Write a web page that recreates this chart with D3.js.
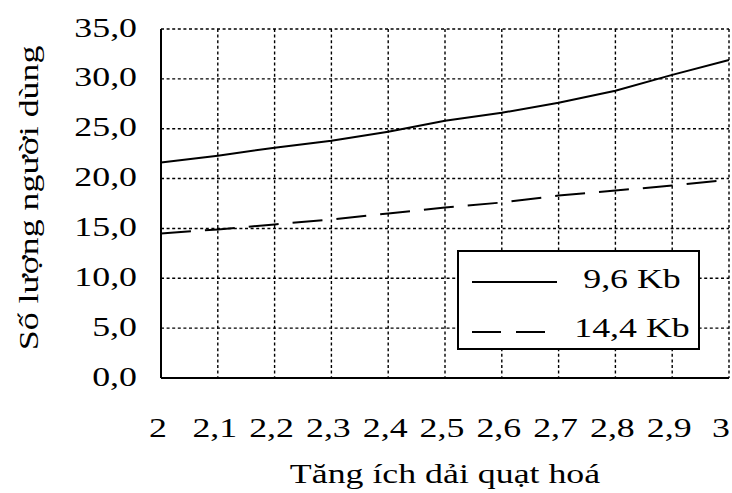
<!DOCTYPE html>
<html>
<head>
<meta charset="utf-8">
<script src="https://cdn.jsdelivr.net/npm/d3@7/dist/d3.min.js"></script>
<style>
html,body{margin:0;padding:0;background:#fff;}
text{font-family:"Liberation Serif","Times New Roman",serif;fill:#000;}
</style>
</head>
<body>
<svg id="chart" width="732" height="493"></svg>
<script>
// Data
const xValues = [2, 2.1, 2.2, 2.3, 2.4, 2.5, 2.6, 2.7, 2.8, 2.9, 3];
const xTickLabels = ["2", "2,1", "2,2", "2,3", "2,4", "2,5", "2,6", "2,7", "2,8", "2,9", "3"];
const yTicks = [0, 5, 10, 15, 20, 25, 30, 35];
const yTickLabels = ["0,0", "5,0", "10,0", "15,0", "20,0", "25,0", "30,0", "35,0"];
const series96 = [21.6, 22.3, 23.1, 23.8, 24.7, 25.8, 26.6, 27.6, 28.8, 30.4, 31.9];
const series144 = [14.5, 14.9, 15.4, 15.9, 16.5, 17.1, 17.6, 18.3, 18.8, 19.3, 19.9];
const seriesNames = ["9,6 Kb", "14,4 Kb"];
const xTitle = "Tăng ích dải quạt hoá";
const yTitle = "Số lượng người dùng";

(function () {
const svg = d3.select("#chart");
const pL = 161, pR = 729, pT = 29, pB = 378;
const FS = 28, SX = 1.28;

const x = d3.scaleLinear().domain([2, 3]).range([pL, pR]);
const y = d3.scaleLinear().domain([0, 35]).range([pB, pT]);

// grid
const grid = svg.append("g").attr("stroke", "#000").attr("stroke-width", 1.4)
  .attr("stroke-dasharray", "3,2.6").attr("fill", "none");
yTicks.filter(v => v > 0).forEach(v => {
  grid.append("line").attr("x1", pL).attr("x2", pR).attr("y1", y(v)).attr("y2", y(v));
});
xValues.filter(v => v > 2).forEach(v => {
  grid.append("line").attr("x1", x(v)).attr("x2", x(v)).attr("y1", pT).attr("y2", pB);
});

// axes lines (solid left & bottom)
svg.append("line").attr("x1", pL).attr("x2", pL).attr("y1", pT).attr("y2", pB)
  .attr("stroke", "#000").attr("stroke-width", 2);
svg.append("line").attr("x1", pL).attr("x2", pR).attr("y1", pB).attr("y2", pB)
  .attr("stroke", "#000").attr("stroke-width", 2);

function label(g, txt, tx, ty, anchor, extra) {
  return g.append("text")
    .attr("transform", `translate(${tx},${ty})${extra || ""} scale(${SX},1)`)
    .attr("text-anchor", anchor)
    .attr("font-size", FS)
    .text(txt);
}

// y tick labels
yTicks.forEach((v, i) => label(svg, yTickLabels[i], 137, y(v) + 7.5, "end"));
// x tick labels
xValues.forEach((v, i) => label(svg, xTickLabels[i], Math.min(x(v) - 3, 721), 437, "middle"));

// titles
label(svg, xTitle, (pL + pR) / 2, 483, "middle");
label(svg, yTitle, 38, 198, "middle", " rotate(-90)");

// lines
const line = d3.line().x((d, i) => x(xValues[i])).y(d => y(d));
svg.append("path").datum(series96).attr("d", line)
  .attr("fill", "none").attr("stroke", "#000").attr("stroke-width", 2);
svg.append("path").datum(series144).attr("d", line)
  .attr("fill", "none").attr("stroke", "#000").attr("stroke-width", 2)
  .attr("stroke-dasharray", "30,14");

// legend
const lg = svg.append("g");
lg.append("rect").attr("x", 458).attr("y", 251).attr("width", 241).attr("height", 98)
  .attr("fill", "#fff").attr("stroke", "#000").attr("stroke-width", 2);
lg.append("line").attr("x1", 472).attr("x2", 557).attr("y1", 282).attr("y2", 282)
  .attr("stroke", "#000").attr("stroke-width", 2);
lg.append("line").attr("x1", 472).attr("x2", 557).attr("y1", 332).attr("y2", 332)
  .attr("stroke", "#000").attr("stroke-width", 2).attr("stroke-dasharray", "29,15");
label(lg, seriesNames[0], 632, 288, "middle");
label(lg, seriesNames[1], 632, 337, "middle");
})();
</script>
</body>
</html>
